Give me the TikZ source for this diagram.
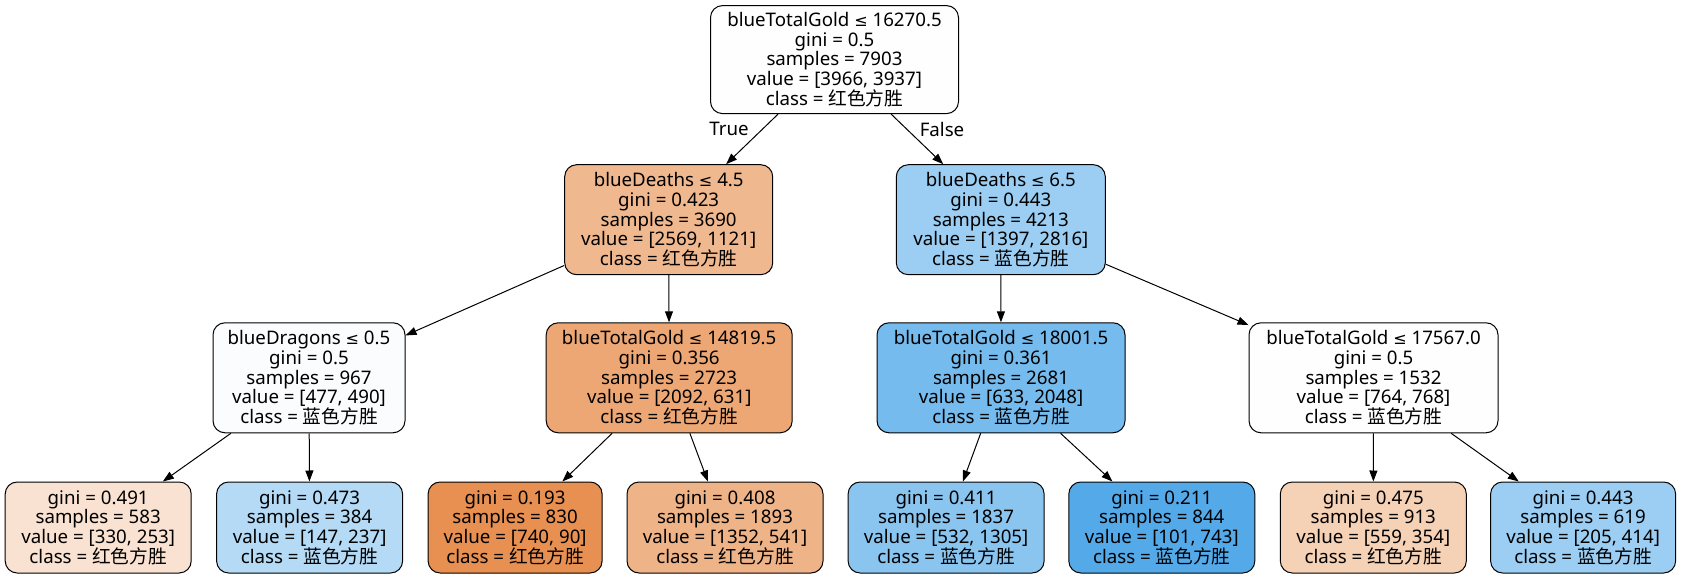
\documentclass[tikz,border=0pt]{standalone}
\usepackage{fontspec}
\setmainfont{Noto Sans}
\newfontfamily\cjk{Noto Sans CJK SC}
\newfontfamily\symf{DejaVu Sans}
\usetikzlibrary{arrows.meta}
\newcommand\hz[1]{{\cjk #1}}
\newcommand\leqs{{\symf\fontsize{16}{19.6}\selectfont ≤}}
\definecolor{cRoot}{RGB}{255,254,254}
\definecolor{cLa}{RGB}{240,184,143}
\definecolor{cLb}{RGB}{155,206,242}
\definecolor{cA}{RGB}{250,252,254}
\definecolor{cB}{RGB}{237,167,117}
\definecolor{cC}{RGB}{118,187,237}
\definecolor{cD}{RGB}{254,254,255}
\definecolor{cLf1}{RGB}{249,226,209}
\definecolor{cLf2}{RGB}{180,218,245}
\definecolor{cLf3}{RGB}{232,144,81}
\definecolor{cLf4}{RGB}{239,179,136}
\definecolor{cLf5}{RGB}{138,197,240}
\definecolor{cLf6}{RGB}{84,170,233}
\definecolor{cLf7}{RGB}{245,209,182}
\definecolor{cLf8}{RGB}{155,206,242}
\begin{document}
\begin{tikzpicture}[x=1pt,y=-1pt,
  tbox/.style={draw=black, line width=1pt, rounded corners=12pt, inner sep=0pt,
    align=center, font=\fontsize{18.7}{19.6}\selectfont},
  inner/.style={tbox, minimum height=110pt},
  leaf/.style={tbox, minimum height=91pt},
  edge/.style={line width=1pt, -{Triangle[length=11pt,width=8pt]}},
  elab/.style={font=\fontsize{18.7}{19.6}\selectfont, inner sep=0pt}]
\useasboundingbox (0,0) rectangle (1683,577);
\node[tbox, minimum width=248pt, minimum height=108pt, fill=cRoot] (root) at (834.5,59.6)
  {blueTotalGold \leqs{} 16270.5\\gini = 0.5\\samples = 7903\\value = [3966, 3937]\\class = \hz{红色方胜}};
\node[inner, minimum width=208pt, fill=cLa] (la) at (668.7,219.7)
  {blueDeaths \leqs{} 4.5\\gini = 0.423\\samples = 3690\\value = [2569, 1121]\\class = \hz{红色方胜}};
\node[inner, minimum width=209pt, fill=cLb] (lb) at (1000.8,219.7)
  {blueDeaths \leqs{} 6.5\\gini = 0.443\\samples = 4213\\value = [1397, 2816]\\class = \hz{蓝色方胜}};
\node[inner, minimum width=192pt, fill=cA] (na) at (309,377.8)
  {blueDragons \leqs{} 0.5\\gini = 0.5\\samples = 967\\value = [477, 490]\\class = \hz{蓝色方胜}};
\node[inner, minimum width=246pt, fill=cB] (nb) at (669.2,377.8)
  {blueTotalGold \leqs{} 14819.5\\gini = 0.356\\samples = 2723\\value = [2092, 631]\\class = \hz{红色方胜}};
\node[inner, minimum width=248pt, fill=cC] (nc) at (1001,377.8)
  {blueTotalGold \leqs{} 18001.5\\gini = 0.361\\samples = 2681\\value = [633, 2048]\\class = \hz{蓝色方胜}};
\node[inner, minimum width=249pt, fill=cD] (nd) at (1373.5,377.8)
  {blueTotalGold \leqs{} 17567.0\\gini = 0.5\\samples = 1532\\value = [764, 768]\\class = \hz{蓝色方胜}};
\node[leaf, minimum width=186pt, fill=cLf1] (f1) at (98.2,527.5)
  {gini = 0.491\\samples = 583\\value = [330, 253]\\class = \hz{红色方胜}};
\node[leaf, minimum width=186pt, fill=cLf2] (f2) at (309.6,527.5)
  {gini = 0.473\\samples = 384\\value = [147, 237]\\class = \hz{蓝色方胜}};
\node[leaf, minimum width=174pt, fill=cLf3] (f3) at (515.1,527.5)
  {gini = 0.193\\samples = 830\\value = [740, 90]\\class = \hz{红色方胜}};
\node[leaf, minimum width=196pt, fill=cLf4] (f4) at (725,527.5)
  {gini = 0.408\\samples = 1893\\value = [1352, 541]\\class = \hz{红色方胜}};
\node[leaf, minimum width=196pt, fill=cLf5] (f5) at (946.1,527.5)
  {gini = 0.411\\samples = 1837\\value = [532, 1305]\\class = \hz{蓝色方胜}};
\node[leaf, minimum width=186pt, fill=cLf6] (f6) at (1161.8,527.5)
  {gini = 0.211\\samples = 844\\value = [101, 743]\\class = \hz{蓝色方胜}};
\node[leaf, minimum width=186pt, fill=cLf7] (f7) at (1373.3,527.5)
  {gini = 0.475\\samples = 913\\value = [559, 354]\\class = \hz{红色方胜}};
\node[leaf, minimum width=185pt, fill=cLf8] (f8) at (1583.1,527.5)
  {gini = 0.443\\samples = 619\\value = [205, 414]\\class = \hz{蓝色方胜}};
\draw[edge] (root) -- (la);
\draw[edge] (root) -- (lb);
\draw[edge] (la) -- (na);
\draw[edge] (la) -- (nb);
\draw[edge] (lb) -- (nc);
\draw[edge] (lb) -- (nd);
\draw[edge] (na) -- (f1);
\draw[edge] (na) -- (f2);
\draw[edge] (nb) -- (f3);
\draw[edge] (nb) -- (f4);
\draw[edge] (nc) -- (f5);
\draw[edge] (nc) -- (f6);
\draw[edge] (nd) -- (f7);
\draw[edge] (nd) -- (f8);
\node[elab] (tl) at (729,129) {True};
\node[elab] (fl) at (942,129) {False};
\end{tikzpicture}
\end{document}
